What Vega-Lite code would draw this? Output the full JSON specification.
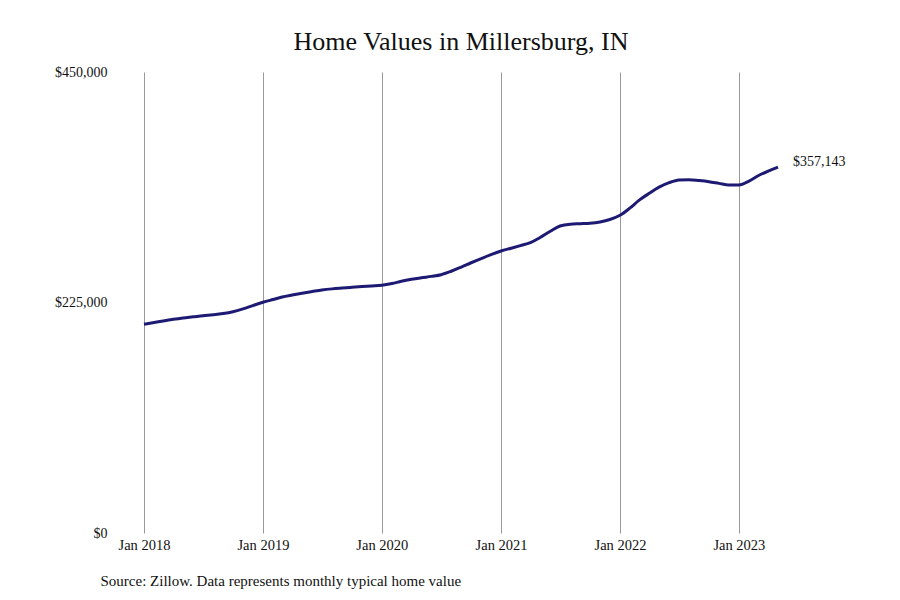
{
  "$schema": "https://vega.github.io/schema/vega-lite/v6.json",
  "width": 634,
  "height": 461,
  "autosize": {"type": "none"},
  "padding": {"left": 144, "top": 72, "right": 122, "bottom": 67},
  "background": "white",
  "view": {"stroke": null},
  "title": {
    "text": "Home Values in Millersburg, IN",
    "font": "Liberation Serif",
    "fontSize": 26,
    "fontWeight": "normal",
    "color": "#111111",
    "anchor": "middle",
    "offset": 10
  },
  "data": {
    "values": [
      {"date": "2018-01", "value": 203700},
      {"date": "2018-02", "value": 205400},
      {"date": "2018-03", "value": 207000},
      {"date": "2018-04", "value": 208600},
      {"date": "2018-05", "value": 209900},
      {"date": "2018-06", "value": 211000},
      {"date": "2018-07", "value": 212100},
      {"date": "2018-08", "value": 213000},
      {"date": "2018-09", "value": 214200},
      {"date": "2018-10", "value": 216000},
      {"date": "2018-11", "value": 218800},
      {"date": "2018-12", "value": 222000},
      {"date": "2019-01", "value": 225200},
      {"date": "2019-02", "value": 227900},
      {"date": "2019-03", "value": 230300},
      {"date": "2019-04", "value": 232300},
      {"date": "2019-05", "value": 234100},
      {"date": "2019-06", "value": 235700},
      {"date": "2019-07", "value": 237200},
      {"date": "2019-08", "value": 238300},
      {"date": "2019-09", "value": 239100},
      {"date": "2019-10", "value": 239800},
      {"date": "2019-11", "value": 240500},
      {"date": "2019-12", "value": 241100},
      {"date": "2020-01", "value": 241800},
      {"date": "2020-02", "value": 243500},
      {"date": "2020-03", "value": 245700},
      {"date": "2020-04", "value": 247600},
      {"date": "2020-05", "value": 249100},
      {"date": "2020-06", "value": 250500},
      {"date": "2020-07", "value": 252100},
      {"date": "2020-08", "value": 255500},
      {"date": "2020-09", "value": 259600},
      {"date": "2020-10", "value": 263800},
      {"date": "2020-11", "value": 267900},
      {"date": "2020-12", "value": 271700},
      {"date": "2021-01", "value": 275300},
      {"date": "2021-02", "value": 278000},
      {"date": "2021-03", "value": 280500},
      {"date": "2021-04", "value": 283400},
      {"date": "2021-05", "value": 288500},
      {"date": "2021-06", "value": 294500},
      {"date": "2021-07", "value": 299700},
      {"date": "2021-08", "value": 301500},
      {"date": "2021-09", "value": 301900},
      {"date": "2021-10", "value": 302300},
      {"date": "2021-11", "value": 303600},
      {"date": "2021-12", "value": 306000},
      {"date": "2022-01", "value": 310100},
      {"date": "2022-02", "value": 317300},
      {"date": "2022-03", "value": 324900},
      {"date": "2022-04", "value": 331600},
      {"date": "2022-05", "value": 337600},
      {"date": "2022-06", "value": 342000},
      {"date": "2022-07", "value": 344600},
      {"date": "2022-08", "value": 344900},
      {"date": "2022-09", "value": 344000},
      {"date": "2022-10", "value": 342900},
      {"date": "2022-11", "value": 341300},
      {"date": "2022-12", "value": 339800},
      {"date": "2023-01", "value": 339700},
      {"date": "2023-02", "value": 343500},
      {"date": "2023-03", "value": 348700},
      {"date": "2023-04", "value": 353300},
      {"date": "2023-05", "value": 357143}
    ],
    "format": {"parse": {"date": "date:'%Y-%m'"}}
  },
  "encoding": {
    "x": {
      "field": "date",
      "type": "temporal",
      "scale": {"nice": false},
      "axis": {
        "title": "Source: Zillow. Data represents monthly typical home value",
        "titleFont": "Liberation Serif",
        "titleFontSize": 15,
        "titleFontWeight": "normal",
        "titleColor": "#111111",
        "titleAnchor": "start",
        "titleAlign": "left",
        "titleX": -44,
        "titleY": 52,
        "titleBaseline": "alphabetic",
        "format": "%b %Y",
        "tickCount": {"interval": "year", "step": 1},
        "labelFlush": false,
        "labelOverlap": false,
        "grid": true,
        "gridColor": "#999999",
        "gridWidth": 1,
        "domain": false,
        "ticks": false,
        "labelFont": "Liberation Serif",
        "labelFontSize": 14.5,
        "labelColor": "#111111",
        "labelPadding": 5
      }
    },
    "y": {
      "field": "value",
      "type": "quantitative",
      "scale": {"domain": [0, 450000], "nice": false},
      "axis": {
        "title": null,
        "values": [0, 225000, 450000],
        "format": "$,.0f",
        "grid": false,
        "domain": false,
        "ticks": false,
        "labelFont": "Liberation Serif",
        "labelFontSize": 14,
        "labelColor": "#111111",
        "labelPadding": 37
      }
    }
  },
  "layer": [
    {
      "mark": {"type": "line", "color": "#1c1a72", "strokeWidth": 3, "interpolate": "monotone"}
    },
    {
      "transform": [{"filter": "year(datum.date) == 2023 && month(datum.date) == 4"}],
      "mark": {"type": "text", "align": "left", "baseline": "middle", "dx": 15, "dy": -5, "font": "Liberation Serif", "fontSize": 14, "color": "#111111"},
      "encoding": {"text": {"field": "value", "type": "quantitative", "format": "$,.0f"}}
    }
  ]
}
